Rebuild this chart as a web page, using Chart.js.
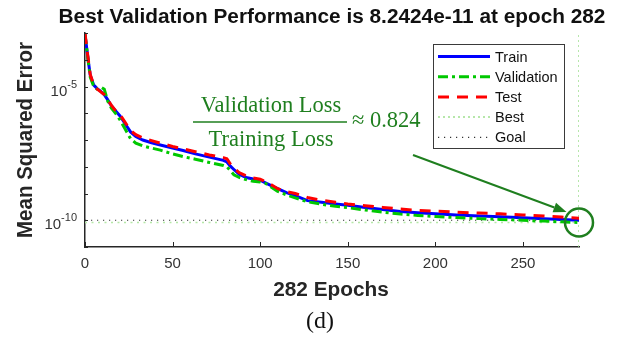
<!DOCTYPE html>
<html>
<head>
<meta charset="utf-8">
<script src="https://cdn.jsdelivr.net/npm/chart.js@4.4.1/dist/chart.umd.min.js"></script>
<style>
  html, body { margin: 0; padding: 0; background: #fff; }
  canvas { display: block; }
</style>
</head>
<body>
<canvas id="perf" width="621" height="339"></canvas>
<script>
// Training record: epochs at which the mean squared error was sampled
const epochs = [0, 1, 2, 3, 5, 7, 9, 11, 13, 15, 18, 20, 23, 26, 29, 33, 38, 43, 50, 56,
  63, 71, 79, 81, 83, 85, 88, 92, 96, 100, 103, 106, 110, 115, 120, 127, 135, 143, 150, 160,
  170, 180, 190, 200, 212, 225, 237, 250, 262, 272, 282];

const trainMSE = [8.9e-4, 2.63e-4, 7.9e-5, 2.63e-5, 1.12e-5, 8.3e-6, 6.6e-6, 5.0e-6, 3.16e-6, 1.91e-6,
  1.12e-6, 7.9e-7, 3.98e-7, 2.0e-7, 1.35e-7, 1.0e-7, 7.9e-8, 6.5e-8, 5.0e-8, 4.07e-8,
  3.02e-8, 2.29e-8, 1.74e-8, 1.51e-8, 1.05e-8, 7.9e-9, 5.25e-9, 3.98e-9, 3.47e-9, 3.16e-9,
  2.51e-9, 2.0e-9, 1.51e-9, 1.07e-9, 8.3e-10, 5.4e-10, 4.68e-10, 4.07e-10, 3.63e-10, 3.02e-10,
  2.51e-10, 2.14e-10, 1.91e-10, 1.74e-10, 1.58e-10, 1.45e-10, 1.35e-10, 1.23e-10, 1.15e-10, 1.07e-10,
  1.0e-10];

const validationMSE = [8.9e-4, 2.51e-4, 7.1e-5, 2.24e-5, 1.0e-5, 7.9e-6, 9.5e-6, 7.9e-6, 2.82e-6, 1.58e-6,
  8.9e-7, 5.6e-7, 2.51e-7, 1.12e-7, 7.6e-8, 6.0e-8, 5.0e-8, 4.17e-8, 3.02e-8, 2.4e-8,
  1.91e-8, 1.45e-8, 1.12e-8, 1.0e-8, 7.1e-9, 5.0e-9, 3.98e-9, 3.31e-9, 2.88e-9, 2.69e-9,
  2.4e-9, 1.78e-9, 1.2e-9, 8.9e-10, 6.9e-10, 4.9e-10, 3.98e-10, 3.31e-10, 2.95e-10, 2.4e-10,
  2.0e-10, 1.7e-10, 1.51e-10, 1.38e-10, 1.26e-10, 1.15e-10, 1.07e-10, 1.0e-10, 9.3e-11, 8.7e-11,
  8.2424e-11];

const testMSE = [1.0e-3, 2.82e-4, 8.9e-5, 2.82e-5, 1.12e-5, 7.9e-6, 6.3e-6, 5.0e-6, 3.16e-6, 2.0e-6,
  1.12e-6, 8.9e-7, 4.47e-7, 2.24e-7, 1.58e-7, 1.2e-7, 9.5e-8, 7.6e-8, 5.75e-8, 4.68e-8,
  3.63e-8, 2.75e-8, 2.19e-8, 2.0e-8, 1.26e-8, 8.9e-9, 6.0e-9, 4.57e-9, 3.8e-9, 3.39e-9,
  2.82e-9, 2.19e-9, 1.51e-9, 1.17e-9, 1.0e-9, 7.1e-10, 5.6e-10, 4.68e-10, 4.07e-10, 3.47e-10,
  3.02e-10, 2.63e-10, 2.34e-10, 2.19e-10, 2.0e-10, 1.86e-10, 1.74e-10, 1.58e-10, 1.45e-10, 1.32e-10,
  1.2e-10];

const bestEpoch = 282;
const bestValidation = 8.2424e-11;
const goalMSE = 1e-10;
const epochRange = [0, 282];
const mseRange = [1e-11, 1e-3];

// axis ticks
const xTicks = [0, 50, 100, 150, 200, 250];
const yTicks = [1e-11, 1e-10, 1e-9, 1e-8, 1e-7, 1e-6, 1e-5, 1e-4, 1e-3];
const labeledExponents = [-10, -5];

// texts
const titleText = 'Best Validation Performance is 8.2424e-11 at epoch 282';
const xTitle = '282 Epochs';
const yTitle = 'Mean Squared Error';
const ratioNumerator = 'Validation Loss';
const ratioDenominator = 'Training Loss';
const ratioValue = '\u2248 0.824';
const panelTag = '(d)';
const legendLabels = ['Train', 'Validation', 'Test', 'Best', 'Goal'];

const SANS = '"Liberation Sans", Arial, Helvetica, sans-serif';
const SERIF = '"Liberation Serif", "Times New Roman", serif';
const INK = '#262626';
const NOTE = '#1f7f1f';

const pts = vals => epochs.map((e, i) => ({ x: e, y: vals[i] }));

const datasets = [
  { label: 'Test', data: pts(testMSE), borderColor: '#ff0000', borderWidth: 3, borderDash: [11, 8] },
  { label: 'Validation', data: pts(validationMSE), borderColor: '#00c800', borderWidth: 3, borderDash: [10, 4, 3, 4] },
  { label: 'Train', data: pts(trainMSE), borderColor: '#0000ff', borderWidth: 3, borderDash: [] },
  { label: 'Best', data: [{ x: bestEpoch, y: mseRange[0] }, { x: bestEpoch, y: mseRange[1] }],
    borderColor: '#9fdf8f', borderWidth: 1.5, borderDash: [2, 3] },
  { label: 'BestLevel', data: [{ x: epochRange[0], y: bestValidation }, { x: epochRange[1], y: bestValidation }],
    borderColor: '#b5e8a8', borderWidth: 1.5, borderDash: [2, 4.5] },
  { label: 'Goal', data: [{ x: epochRange[0], y: goalMSE }, { x: epochRange[1], y: goalMSE }],
    borderColor: '#333333', borderWidth: 1.2, borderDash: [1.2, 4.8] }
];

function stretched(ctx, text, x, y, sx, align) {
  ctx.save();
  ctx.translate(x, y);
  ctx.scale(sx, 1);
  ctx.textAlign = align || 'center';
  ctx.fillText(text, 0, 0);
  ctx.restore();
}

function seg(ctx, x1, y1, x2, y2) {
  ctx.beginPath();
  ctx.moveTo(x1, y1);
  ctx.lineTo(x2, y2);
  ctx.stroke();
}

// Axis ticks, labels, legend and the loss-ratio note
const decor = {
  id: 'perfDecor',
  afterDraw(chart) {
    const { ctx, chartArea: a, scales: { x, y } } = chart;
    ctx.save();

    // inward tick marks
    ctx.strokeStyle = INK;
    ctx.lineWidth = 1;
    ctx.setLineDash([]);
    xTicks.forEach(v => {
      const px = Math.round(x.getPixelForValue(v)) + 0.5;
      seg(ctx, px, a.bottom, px, a.bottom - 5);
    });
    yTicks.forEach(v => {
      const py = Math.round(y.getPixelForValue(v)) + 0.5;
      seg(ctx, a.left, py, a.left + 3, py);
    });

    // power-of-ten labels on the y axis
    ctx.fillStyle = '#333333';
    ctx.textBaseline = 'alphabetic';
    labeledExponents.forEach(e => {
      const py = y.getPixelForValue(Math.pow(10, e));
      const right = a.left - 8;
      const sup = String(e);
      ctx.font = '11px ' + SANS;
      const ws = ctx.measureText(sup).width;
      ctx.textAlign = 'left';
      ctx.fillText(sup, right - ws, py + 1);
      ctx.font = '15px ' + SANS;
      ctx.textAlign = 'right';
      ctx.fillText('10', right - ws, py + 9);
    });

    // titles
    const cx = (a.left + a.right) / 2;
    ctx.fillStyle = '#111111';
    ctx.font = 'bold 20px ' + SANS;
    stretched(ctx, titleText, cx, 23, 1.04);
    ctx.fillStyle = INK;
    stretched(ctx, xTitle, cx - 1, 296, 1.04);
    ctx.save();
    ctx.translate(31.5, (a.top + a.bottom) / 2);
    ctx.scale(1.04, 1);
    ctx.rotate(-Math.PI / 2);
    ctx.font = 'bold 20.5px ' + SANS;
    ctx.textAlign = 'center';
    ctx.fillText(yTitle, 0, 0);
    ctx.restore();

    // legend box
    const lx = 433.5, ly = 44.5, lw = 131, lh = 104;
    ctx.fillStyle = '#ffffff';
    ctx.fillRect(lx, ly, lw, lh);
    ctx.strokeStyle = '#3a3a3a';
    ctx.lineWidth = 1;
    ctx.strokeRect(lx, ly, lw, lh);
    ctx.font = '14.5px ' + SANS;
    ctx.textAlign = 'left';
    ctx.textBaseline = 'middle';
    legendLabels.forEach((name, i) => {
      const ds = chart.data.datasets.find(d => d.label === name);
      const ry = 56.5 + i * 20.2;
      ctx.save();
      ctx.strokeStyle = ds.borderColor;
      ctx.lineWidth = ds.borderWidth;
      ctx.setLineDash(ds.borderDash || []);
      seg(ctx, 438, ry, 490, ry);
      ctx.restore();
      ctx.fillStyle = '#111111';
      ctx.fillText(name, 495, ry + 1);
    });

    // loss-ratio note
    ctx.fillStyle = NOTE;
    ctx.textBaseline = 'alphabetic';
    ctx.font = '22.5px ' + SERIF;
    ctx.textAlign = 'center';
    ctx.fillText(ratioNumerator, 271, 112);
    ctx.fillText(ratioDenominator, 271, 146);
    ctx.strokeStyle = NOTE;
    ctx.lineWidth = 1.5;
    seg(ctx, 193, 122, 347, 122);
    ctx.textAlign = 'left';
    ctx.fillText(ratioValue, 352, 127);

    // circle around the best validation point and the arrow to it
    const bx = x.getPixelForValue(bestEpoch);
    const by = y.getPixelForValue(bestValidation);
    ctx.lineWidth = 2.5;
    ctx.beginPath();
    ctx.arc(bx, by, 14, 0, Math.PI * 2);
    ctx.stroke();

    const sx = 413, sy = 155, tx = bx - 12.5, ty = by - 10.5;
    const ang = Math.atan2(ty - sy, tx - sx);
    const hl = 13, hw = 5;
    const baseX = tx - hl * Math.cos(ang), baseY = ty - hl * Math.sin(ang);
    ctx.lineWidth = 2;
    seg(ctx, sx, sy, baseX, baseY);
    ctx.beginPath();
    ctx.moveTo(tx, ty);
    ctx.lineTo(baseX + hw * Math.sin(ang), baseY - hw * Math.cos(ang));
    ctx.lineTo(baseX - hw * Math.sin(ang), baseY + hw * Math.cos(ang));
    ctx.closePath();
    ctx.fill();

    // panel tag
    ctx.fillStyle = '#111111';
    ctx.font = '23px ' + SERIF;
    stretched(ctx, panelTag, 320, 328, 1.04);

    ctx.restore();
  }
};

new Chart(document.getElementById('perf'), {
  type: 'line',
  data: { datasets },
  options: {
    responsive: false,
    animation: false,
    devicePixelRatio: 1,
    layout: { padding: { top: 33, right: 42, left: 0, bottom: 0 } },
    elements: { point: { radius: 0 }, line: { tension: 0, fill: false } },
    plugins: { legend: { display: false }, tooltip: { enabled: false }, title: { display: false } },
    scales: {
      x: {
        type: 'linear',
        min: epochRange[0],
        max: epochRange[1],
        afterBuildTicks: s => { s.ticks = xTicks.map(v => ({ value: v })); },
        afterFit: s => { s.height = 92; },
        grid: { display: false, drawTicks: false },
        border: { display: true, color: INK, width: 1.5 },
        ticks: {
          color: '#333333',
          font: { family: SANS, size: 15 },
          padding: 8,
          maxRotation: 0,
          autoSkip: false,
          callback: v => String(v)
        }
      },
      y: {
        type: 'logarithmic',
        min: mseRange[0],
        max: mseRange[1],
        afterBuildTicks: s => { s.ticks = yTicks.map(v => ({ value: v })); },
        afterFit: s => { s.width = 85; },
        grid: { display: false, drawTicks: false },
        border: { display: true, color: INK, width: 1.5 },
        ticks: { display: false }
      }
    }
  },
  plugins: [decor]
});
</script>
</body>
</html>
